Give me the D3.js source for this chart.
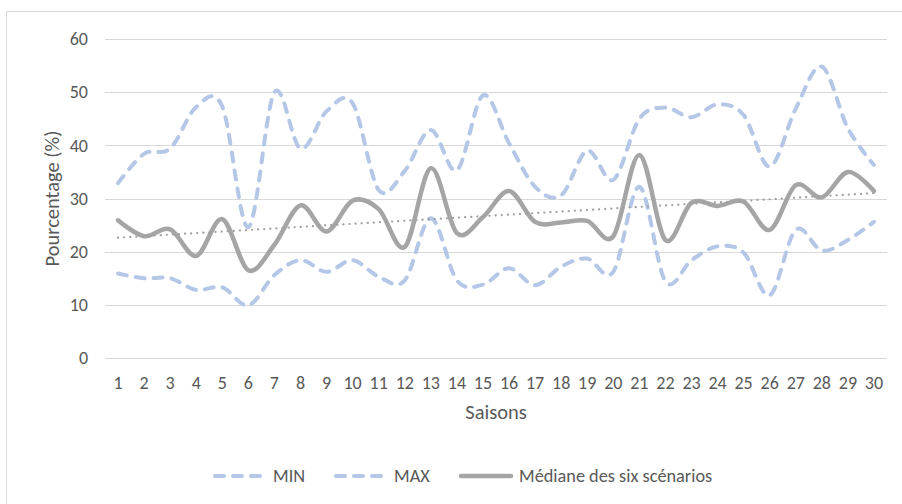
<!DOCTYPE html>
<html>
<head>
<meta charset="utf-8">
<script src="https://cdn.jsdelivr.net/npm/d3@7"></script>
<style>
  body { margin: 0; background: #fff; }
  text { font-family: Carlito, Lato, sans-serif; }
</style>
</head>
<body>
<script>
// values
const seasons = d3.range(1, 31);
const minVals = [15.9, 15, 15, 12.8, 13.3, 9.9, 15.6, 18.4, 16.2, 18.4,
  15.3, 14.6, 26.3, 14.6, 13.8, 16.9, 13.7, 17.2, 18.7, 16.2,
  32.2, 14.4, 18.4, 21, 19.8, 11.8, 24.1, 20.2, 22.2, 25.6];
const maxVals = [32.9, 38.4, 39.4, 47.2, 47.3, 24.6, 50, 39.4, 46.4, 47.9,
  31.6, 35.2, 42.9, 35.3, 49.4, 40.4, 32.2, 30.6, 39, 33.5,
  45, 47.1, 45.3, 47.7, 45.7, 36, 46.9, 54.8, 43.2, 36.3];
const medianVals = [25.9, 22.9, 24.2, 19.2, 26.1, 16.5, 21.3, 28.7, 23.8, 29.6,
  28, 20.9, 35.7, 23.5, 26.5, 31.4, 25.6, 25.5, 25.8, 22.9,
  38.2, 22.2, 29.2, 28.6, 29.4, 24.1, 32.5, 30.2, 35, 31.4];
const yTicks = [0, 10, 20, 30, 40, 50, 60];

const W = 902, H = 504;
const margin = { left: 105, right: 15, top: 39, bottom: 146 };
const labelColor = "#595959";

const svg = d3.select("body").append("svg")
  .attr("width", W).attr("height", H);

// chart frame (runs off the right and bottom edges)
svg.append("rect")
  .attr("x", 6.5).attr("y", 11.5)
  .attr("width", W).attr("height", H)
  .attr("fill", "none").attr("stroke", "#d9d9d9");

const x = d3.scaleBand()
  .domain(seasons)
  .range([margin.left, W - margin.right]);
const xc = (d) => x(d) + x.bandwidth() / 2;

const y = d3.scaleLinear()
  .domain([0, 60])
  .range([H - margin.bottom, margin.top]);

// gridlines
svg.append("g")
  .selectAll("line")
  .data(yTicks)
  .enter()
  .append("line")
  .attr("x1", margin.left).attr("x2", W - margin.right)
  .attr("y1", (d) => Math.round(y(d)) + 0.5)
  .attr("y2", (d) => Math.round(y(d)) + 0.5)
  .attr("stroke", "#d9d9d9");

// y tick labels
svg.append("g")
  .selectAll("text")
  .data(yTicks)
  .enter()
  .append("text")
  .attr("x", 88)
  .attr("y", (d) => y(d))
  .attr("dy", "0.35em")
  .attr("text-anchor", "end")
  .attr("font-size", 18)
  .attr("fill", labelColor)
  .text((d) => d);

// x tick labels
svg.append("g")
  .selectAll("text")
  .data(seasons)
  .enter()
  .append("text")
  .attr("x", (d) => xc(d))
  .attr("y", 383)
  .attr("dy", "0.35em")
  .attr("text-anchor", "middle")
  .attr("font-size", 18)
  .attr("fill", labelColor)
  .text((d) => d);

// axis titles
svg.append("text")
  .attr("x", (margin.left + W - margin.right) / 2)
  .attr("y", 412)
  .attr("dy", "0.35em")
  .attr("text-anchor", "middle")
  .attr("font-size", 20.5)
  .attr("fill", labelColor)
  .text("Saisons");

svg.append("text")
  .attr("transform", `translate(52,${y(30)}) rotate(-90)`)
  .attr("dy", "0.35em")
  .attr("text-anchor", "middle")
  .attr("font-size", 20.5)
  .attr("fill", labelColor)
  .text("Pourcentage (%)");

const line = (vals) => d3.line()
  .x((d, i) => xc(seasons[i]))
  .y((d) => y(d))
  .curve(d3.curveCardinal.tension(0))(vals);

const plot = svg.append("g");

plot.append("path")
  .attr("d", line(minVals))
  .attr("fill", "none")
  .attr("stroke", "#b4c7e7")
  .attr("stroke-width", 4)
  .attr("stroke-dasharray", "9 9")
  .attr("stroke-linecap", "round");

plot.append("path")
  .attr("d", line(maxVals))
  .attr("fill", "none")
  .attr("stroke", "#b4c7e7")
  .attr("stroke-width", 4)
  .attr("stroke-dasharray", "9 9")
  .attr("stroke-linecap", "round");

plot.append("path")
  .attr("d", line(medianVals))
  .attr("fill", "none")
  .attr("stroke", "#a5a5a5")
  .attr("stroke-width", 4.5)
  .attr("stroke-linecap", "round");

// linear trend of the median
const mx = d3.mean(seasons), my = d3.mean(medianVals);
const slope = d3.sum(seasons, (s, i) => (s - mx) * (medianVals[i] - my)) /
  d3.sum(seasons, (s) => (s - mx) * (s - mx));
const trend = (s) => my + slope * (s - mx);

plot.append("line")
  .attr("x1", xc(1)).attr("y1", y(trend(1)))
  .attr("x2", xc(30)).attr("y2", y(trend(30)))
  .attr("stroke", "#a0a0a0")
  .attr("stroke-width", 2.2)
  .attr("stroke-dasharray", "0.1 6")
  .attr("stroke-linecap", "round");

// legend
const legendItems = [
  { name: "MIN", x: 213, dash: "9 9", color: "#b4c7e7", w: 4 },
  { name: "MAX", x: 334, dash: "9 9", color: "#b4c7e7", w: 4 },
  { name: "Médiane des six scénarios", x: 459, dash: null, color: "#a5a5a5", w: 4.5 },
];
const legend = svg.append("g")
  .selectAll("g")
  .data(legendItems)
  .enter()
  .append("g")
  .attr("transform", (d) => `translate(${d.x},476)`);

legend.append("line")
  .attr("x1", 2).attr("x2", 52)
  .attr("stroke", (d) => d.color)
  .attr("stroke-width", (d) => d.w)
  .attr("stroke-dasharray", (d) => d.dash)
  .attr("stroke-linecap", "round");

legend.append("text")
  .attr("x", 60)
  .attr("dy", "0.35em")
  .attr("font-size", 18.3)
  .attr("fill", labelColor)
  .text((d) => d.name);
</script>
</body>
</html>
